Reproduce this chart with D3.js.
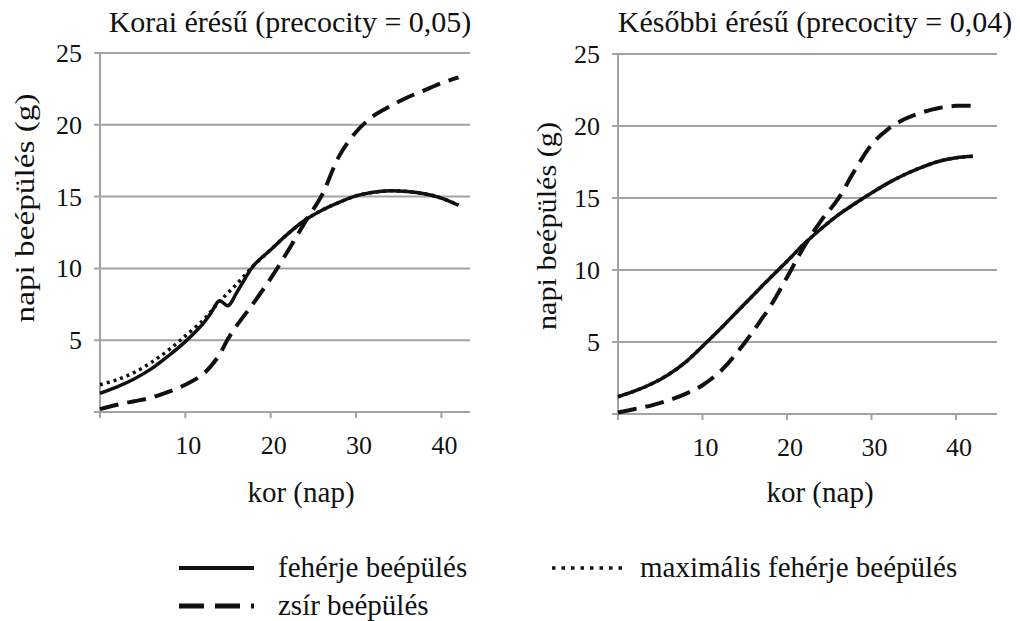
<!DOCTYPE html>
<html>
<head>
<meta charset="utf-8">
<script src="https://cdn.jsdelivr.net/npm/d3@7"></script>
<style>
  html, body { margin: 0; padding: 0; background: #fff; }
  svg text { font-family: "Times New Roman", "Liberation Serif", Tinos, "DejaVu Serif", "Noto Serif", serif; }
</style>
</head>
<body>
<div id="chart"></div>
<script>
const width = 1020;
const height = 621;

// --- data ---
const days = [0, 2, 4, 6, 8, 10, 12, 13, 14, 15, 16, 17, 18, 20, 22, 24, 26, 28, 30, 32, 34, 36, 38, 40, 42];

const koraiFeherje    = [1.3, 1.75, 2.3, 3.0, 3.9, 4.9, 6.1, 6.9, 7.75, 7.4, 8.3, 9.3, 10.2, 11.3, 12.4, 13.35, 14.05, 14.6, 15.05, 15.3, 15.4, 15.35, 15.2, 14.9, 14.4];
const koraiMaxFeherje = [1.9, 2.25, 2.75, 3.45, 4.3, 5.3, 6.35, 7.0, 7.7, 8.3, 8.9, 9.55, 10.2, 11.3, 12.4, 13.35, 14.05, 14.6, 15.05, 15.3, 15.4, 15.35, 15.2, 14.9, 14.4];
const koraiZsir       = [0.2, 0.5, 0.75, 1.0, 1.4, 1.9, 2.6, 3.2, 4.0, 5.1, 6.0, 6.8, 7.6, 9.3, 11.2, 13.2, 15.1, 17.8, 19.5, 20.6, 21.3, 21.9, 22.4, 22.9, 23.3];

const kesobbiFeherje    = [1.2, 1.6, 2.1, 2.75, 3.6, 4.7, 5.85, 6.45, 7.05, 7.65, 8.25, 8.85, 9.45, 10.6, 11.8, 12.85, 13.8, 14.6, 15.35, 16.05, 16.65, 17.15, 17.55, 17.8, 17.9];
const kesobbiMaxFeherje = [1.2, 1.6, 2.1, 2.75, 3.6, 4.7, 5.85, 6.45, 7.05, 7.65, 8.25, 8.85, 9.45, 10.6, 11.8, 12.85, 13.8, 14.6, 15.35, 16.05, 16.65, 17.15, 17.55, 17.8, 17.9];
const kesobbiZsir       = [0.1, 0.35, 0.6, 0.95, 1.4, 2.0, 2.9, 3.5, 4.2, 4.95, 5.75, 6.6, 7.45, 9.5, 11.6, 13.4, 14.9, 16.9, 18.7, 19.8, 20.5, 20.95, 21.25, 21.4, 21.4];

const xTicks = [0, 10, 20, 30, 40];
const xTickLabels = ["", "10", "20", "30", "40"];
const yTicks = [0, 5, 10, 15, 20, 25];
const yTickLabels = ["", "5", "10", "15", "20", "25"];

const panelTitles = ["Korai érésű (precocity = 0,05)", "Későbbi érésű (precocity = 0,04)"];
const xAxisTitle = "kor (nap)";
const yAxisTitle = "napi beépülés (g)";
const seriesNames = ["fehérje beépülés", "zsír beépülés", "maximális fehérje beépülés"];

// --- layout of the two panels ---
const panels = [
    { title: panelTitles[0], x0: 100, x1: 470, xMax: 43.35, y0: 412, y1: 53,
      titleX: 290, yLabelX: 34, yLabelY: 208, yLabelLen: 229, xLabelX: 301,
      protein: koraiFeherje, maxProtein: koraiMaxFeherje, fat: koraiZsir },
    { title: panelTitles[1], x0: 618, x1: 997, xMax: 44.85, y0: 414, y1: 54,
      titleX: 815, yLabelX: 556, yLabelY: 226, yLabelLen: 208, xLabelX: 820,
      protein: kesobbiFeherje, maxProtein: kesobbiMaxFeherje, fat: kesobbiZsir }
];

const gridColor = "#a3a3a3";
const ink = "#111";

const svg = d3.select("#chart")
    .append("svg")
    .attr("width", width)
    .attr("height", height)
    .attr("fill", ink);

panels.forEach(p => {
    const x = d3.scaleLinear().domain([0, p.xMax]).range([p.x0, p.x1]);
    const y = d3.scaleLinear().domain([0, 25]).range([p.y0, p.y1]);
    const g = svg.append("g");

    // horizontal gridlines + small ticks left of the axis
    g.selectAll(".grid")
        .data(yTicks)
        .enter()
        .append("line")
        .attr("x1", p.x0 - 6)
        .attr("x2", p.x1)
        .attr("y1", d => y(d))
        .attr("y2", d => y(d))
        .style("stroke", gridColor)
        .style("stroke-width", 2);

    // y axis line
    g.append("line")
        .attr("x1", p.x0).attr("x2", p.x0)
        .attr("y1", y(0)).attr("y2", y(25))
        .style("stroke", gridColor)
        .style("stroke-width", 2);

    // x ticks
    g.selectAll(".xtick")
        .data(xTicks)
        .enter()
        .append("line")
        .attr("x1", d => x(d)).attr("x2", d => x(d))
        .attr("y1", y(0)).attr("y2", y(0) + 6)
        .style("stroke", gridColor)
        .style("stroke-width", 2);

    g.selectAll(".xlabel")
        .data(xTicks)
        .enter()
        .append("text")
        .attr("x", d => x(d) + 3)
        .attr("y", y(0) + 42)
        .attr("text-anchor", "middle")
        .style("font-size", "26px")
        .text((d, i) => xTickLabels[i]);

    g.selectAll(".ylabel")
        .data(yTicks)
        .enter()
        .append("text")
        .attr("x", p.x0 - 18)
        .attr("y", d => y(d) + 9)
        .attr("text-anchor", "end")
        .style("font-size", "26px")
        .text((d, i) => yTickLabels[i]);

    // titles
    g.append("text")
        .attr("x", p.titleX)
        .attr("y", 32)
        .attr("text-anchor", "middle")
        .style("font-size", "30px")
        .text(p.title);

    g.append("text")
        .attr("x", p.xLabelX)
        .attr("y", 502)
        .attr("text-anchor", "middle")
        .style("font-size", "29px")
        .text(xAxisTitle);

    g.append("text")
        .attr("transform", `translate(${p.yLabelX},${p.yLabelY}) rotate(-90)`)
        .attr("text-anchor", "middle")
        .attr("textLength", p.yLabelLen)
        .attr("lengthAdjust", "spacingAndGlyphs")
        .style("font-size", "28px")
        .text(yAxisTitle);

    // series
    const line = d3.line()
        .x((d, i) => x(days[i]))
        .y(d => y(d))
        .curve(d3.curveCatmullRom.alpha(0.5));

    g.append("path")
        .attr("d", line(p.maxProtein))
        .attr("fill", "none")
        .style("stroke", ink)
        .style("stroke-width", 3.5)
        .style("stroke-dasharray", "3,4");

    g.append("path")
        .attr("d", line(p.fat))
        .attr("fill", "none")
        .style("stroke", ink)
        .style("stroke-width", 4)
        .style("stroke-dasharray", "19,9");

    g.append("path")
        .attr("d", line(p.protein))
        .attr("fill", "none")
        .style("stroke", ink)
        .style("stroke-width", 3.5);
});

// --- legend ---
const legend = svg.append("g");
const legendItems = [
    { name: seriesNames[0], x: 179, y: 568, dash: null, w: 4, tx: 278 },
    { name: seriesNames[1], x: 179, y: 606, dash: "25,11", w: 5, tx: 278 },
    { name: seriesNames[2], x: 552, y: 568, dash: "3.5,6", w: 3.5, tx: 640 }
];

legendItems.forEach(d => {
    legend.append("line")
        .attr("x1", d.x)
        .attr("x2", d.x + 75)
        .attr("y1", d.y)
        .attr("y2", d.y)
        .style("stroke", ink)
        .style("stroke-width", d.w)
        .style("stroke-dasharray", d.dash);

    legend.append("text")
        .attr("x", d.tx)
        .attr("y", d.y + 9)
        .style("font-size", "29px")
        .text(d.name);
});
</script>
</body>
</html>
